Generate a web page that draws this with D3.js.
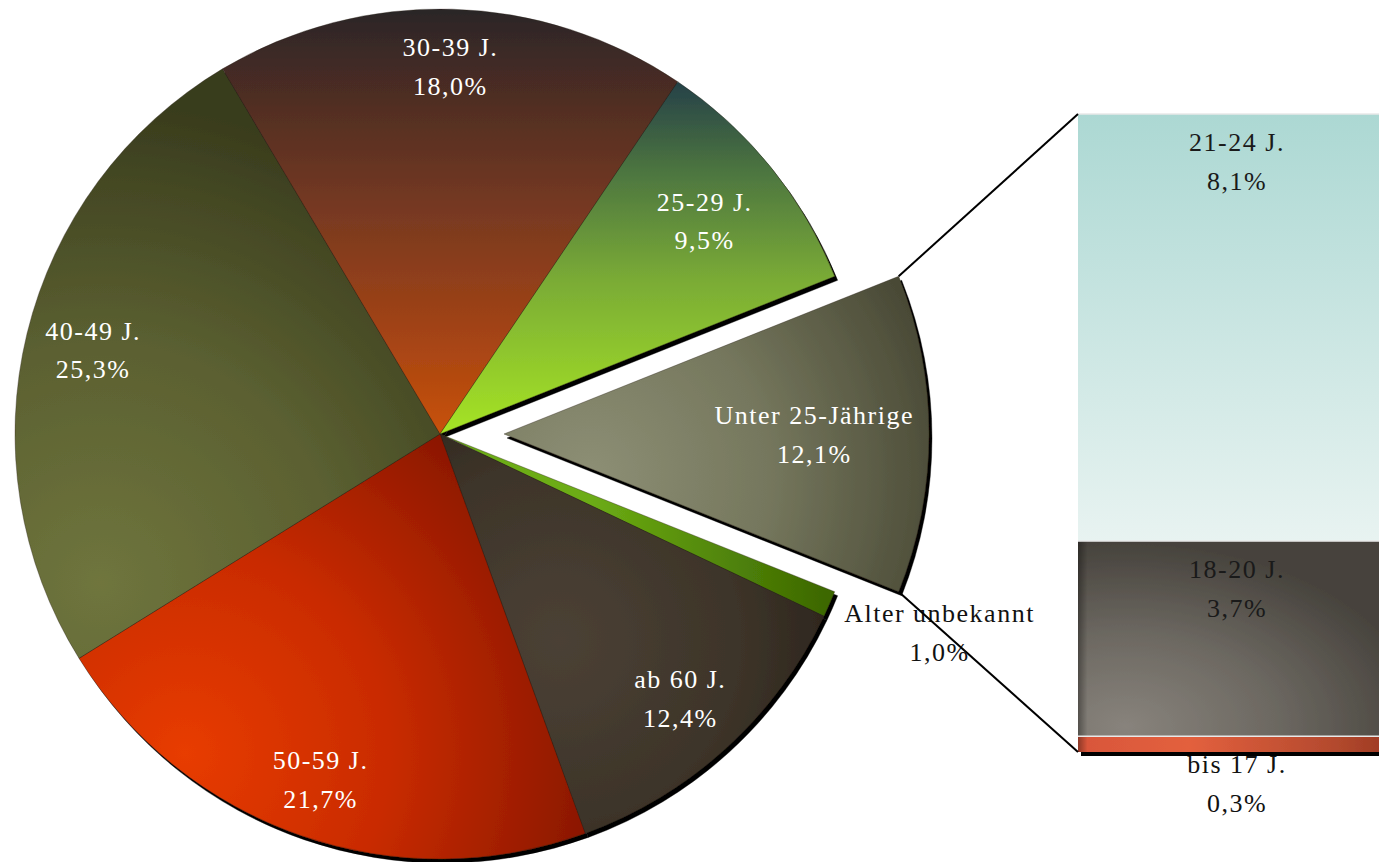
<!DOCTYPE html>
<html><head><meta charset="utf-8">
<script src="https://cdn.jsdelivr.net/npm/d3@7"></script>
<style>
html,body{margin:0;padding:0;background:#fff;overflow:hidden}
svg{display:block}
text{font-family:"Liberation Serif","Times New Roman",serif;font-size:26px;letter-spacing:1.5px}
</style></head><body>
<svg id="chart" width="1379" height="862"></svg>
<script>
// ---- data ----
const pieCategories = ["Unter 25-Jährige", "Alter unbekannt", "ab 60 J.", "50-59 J.", "40-49 J.", "30-39 J.", "25-29 J."];
const pieValues = [12.1, 1.0, 12.4, 21.7, 25.3, 18.0, 9.5];
const barCategories = ["21-24 J.", "18-20 J.", "bis 17 J."];
const barValues = [8.1, 3.7, 0.3];

// ---- layout / style ----
const cx = 440, cy = 434, R = 425, explode = 64;
const barX = 1078, barW = 318, barTop = 114, barBottom = 752;
const lineGap = 38.5;
const fmt = v => d3.format(".1f")(v).replace(".", ",") + "%";

const svg = d3.select("#chart");
const defs = svg.append("defs");
const flt = defs.append("filter").attr("id", "shadow")
  .attr("x", "-5%").attr("y", "-5%").attr("width", "115%").attr("height", "115%");
flt.append("feDropShadow").attr("dx", 3).attr("dy", 4).attr("stdDeviation", 0.6)
  .attr("flood-color", "#000").attr("flood-opacity", 1);

function linGrad(id, x1, y1, x2, y2, stops, units) {
  const g = defs.append("linearGradient").attr("id", id)
    .attr("gradientUnits", units || "userSpaceOnUse")
    .attr("x1", x1).attr("y1", y1).attr("x2", x2).attr("y2", y2);
  stops.forEach(s => g.append("stop").attr("offset", s[0]).attr("stop-color", s[1]).attr("stop-opacity", s[2] === undefined ? 1 : s[2]));
}
function radGrad(id, gx, gy, r, stops, units) {
  const g = defs.append("radialGradient").attr("id", id)
    .attr("gradientUnits", units || "userSpaceOnUse")
    .attr("cx", gx).attr("cy", gy).attr("r", r);
  stops.forEach(s => g.append("stop").attr("offset", s[0]).attr("stop-color", s[1]));
}

// slice fills (coordinates relative to each slice's own apex)
radGrad("g0", 0.2 * R, 0.1 * R, 360, [[0, "#8d8f75"], [0.5, "#75775d"], [1, "#4a4a36"]]);
linGrad("g1", 150, 0, 400, 0, [[0, "#6cac14"], [1, "#3a6400"]]);
radGrad("g2", 120, 206, 300, [[0, "#4b4135"], [0.6, "#3d3429"], [1, "#29221a"]]);
radGrad("g3", -255, 319, 410, [[0, "#e83c06"], [0.5, "#c92b00"], [1, "#8a1700"]]);
radGrad("g4", -340, 149, 480, [[0, "#6f753d"], [0.5, "#5b6031"], [1, "#393c1d"]]);
linGrad("g5", 0, -R, 0, 0, [[0, "#2a2627"], [0.2, "#4d2d24"], [0.5, "#7b3a20"], [0.78, "#a64414"], [1, "#c8520a"]]);
linGrad("g6", 0, -0.82 * R, 0, 0, [[0, "#274347"], [0.25, "#4d7640"], [0.55, "#79aa36"], [1, "#a6e424"]]);
const labelRadius = [0.73, 1.0, 0.84, 0.86, 0.84, 0.866, 0.80];

// bar fills
linGrad("b0", 0, 0, 0, 1, [[0, "#acd8d3"], [1, "#e8f3f1"]], "objectBoundingBox");
radGrad("b1", 0.15, 0.95, 0.95, [[0, "#88837c"], [0.5, "#6c6861"], [1, "#46423c"]], "objectBoundingBox");
linGrad("b2", 0, 0, 1, 0, [[0, "#d8563a"], [0.35, "#e3603e"], [0.8, "#b44a2e"], [1, "#9a3822"]], "objectBoundingBox");
linGrad("edge", 0, 0, 1, 0, [[0, "#000", 0.35], [0.03, "#000", 0.0], [1, "#000", 0]], "objectBoundingBox");

// ---- pie ----
const total = d3.sum(pieValues);
const a0 = Math.PI / 2 - (pieValues[0] / total) * Math.PI;
const pie = d3.pie().sort(null).value(d => d.value).startAngle(a0).endAngle(a0 + 2 * Math.PI);
const arcs = pie(pieCategories.map((c, i) => ({ cat: c, value: pieValues[i], i })));
const arc = d3.arc().innerRadius(0).outerRadius(R);

const pieG = svg.append("g").attr("transform", `translate(${cx},${cy})`);
const sliceG = pieG.append("g").attr("filter", "url(#shadow)");
function offsetOf(d) {
  if (d.index !== 0) return [0, 0];
  const m = (d.startAngle + d.endAngle) / 2;
  return [explode * Math.sin(m), -explode * Math.cos(m)];
}
sliceG.selectAll("g.slice").data(arcs).join("g").attr("class", "slice")
  .attr("transform", d => { const o = offsetOf(d); return `translate(${o[0]},${o[1]})`; })
  .append("path").attr("d", arc)
  .attr("fill", d => `url(#g${d.index})`)
  .attr("stroke", "#2a2218").attr("stroke-width", 0.6).attr("stroke-opacity", 0.6);

// inside labels
const inside = arcs.filter(d => d.index !== 1);
const lbl = pieG.selectAll("text.pl").data(inside).join("text").attr("class", "pl")
  .attr("fill", "#ffffff").attr("text-anchor", "middle")
  .attr("transform", d => {
    const o = offsetOf(d), m = (d.startAngle + d.endAngle) / 2, r = R * labelRadius[d.index];
    return `translate(${o[0] + r * Math.sin(m)},${o[1] - r * Math.cos(m) - 10})`;
  });
lbl.append("tspan").attr("x", 0).attr("y", 0).text(d => d.data.cat);
lbl.append("tspan").attr("x", 0).attr("y", lineGap).text(d => fmt(d.data.value));

// small slice label outside
const small = arcs[1];
const sm = (small.startAngle + small.endAngle) / 2;
const smx = R * Math.sin(sm) + 110, smy = -R * Math.cos(sm) + 18;
const st = pieG.append("text").attr("fill", "#111").attr("text-anchor", "middle")
  .attr("transform", `translate(${smx},${smy})`);
st.append("tspan").attr("x", 0).attr("y", 0).text(small.data.cat);
st.append("tspan").attr("x", 0).attr("y", lineGap).text(fmt(small.data.value));

// ---- bar ----
const barTotal = d3.sum(barValues);
const y = d3.scaleLinear().domain([0, barTotal]).range([barBottom, barTop]);
const segs = [];
let acc = 0;
for (let i = barValues.length - 1; i >= 0; i--) {
  segs.push({ cat: barCategories[i], value: barValues[i], idx: i, y0: acc, y1: acc + barValues[i] });
  acc += barValues[i];
}
// label of thin segment sits below the bar (drawn first, partly covered)
segs.filter(s => y(s.y0) - y(s.y1) < 40).forEach(s => {
  const t = svg.append("text").attr("fill", "#111").attr("text-anchor", "middle")
    .attr("transform", `translate(${barX + barW / 2},${y(s.y0) + 21})`);
  t.append("tspan").attr("x", 0).attr("y", 0).text(s.cat);
  t.append("tspan").attr("x", 0).attr("y", lineGap).text(fmt(s.value));
});
const barG = svg.append("g").attr("filter", "url(#shadow)");
barG.selectAll("rect").data(segs).join("rect")
  .attr("x", barX).attr("width", barW)
  .attr("y", d => y(d.y1)).attr("height", d => y(d.y0) - y(d.y1))
  .attr("fill", d => `url(#b${d.idx})`);
svg.selectAll("rect.edge").data(segs.filter(s => s.idx > 0)).join("rect").attr("class", "edge")
  .attr("x", barX).attr("width", barW)
  .attr("y", d => y(d.y1)).attr("height", d => y(d.y0) - y(d.y1))
  .attr("fill", "url(#edge)");
svg.selectAll("line.sep").data(segs.filter(s => s.y1 < barTotal)).join("line").attr("class", "sep")
  .attr("x1", barX).attr("x2", barX + barW)
  .attr("y1", d => y(d.y1)).attr("y2", d => y(d.y1))
  .attr("stroke", "#e8e8e8").attr("stroke-width", 1.5);
segs.filter(s => y(s.y0) - y(s.y1) >= 40).forEach(s => {
  const t = svg.append("text").attr("fill", "#1a1a1a").attr("text-anchor", "middle")
    .attr("transform", `translate(${barX + barW / 2},${y(s.y1) + 37})`);
  t.append("tspan").attr("x", 0).attr("y", 0).text(s.cat);
  t.append("tspan").attr("x", 0).attr("y", lineGap).text(fmt(s.value));
});

// ---- connector lines ----
const sp = arcs[0], so = offsetOf(sp);
const c1 = [cx + so[0] + R * Math.sin(sp.startAngle), cy + so[1] - R * Math.cos(sp.startAngle)];
const c2 = [cx + so[0] + R * Math.sin(sp.endAngle), cy + so[1] - R * Math.cos(sp.endAngle)];
svg.append("line").attr("x1", c1[0]).attr("y1", c1[1]).attr("x2", barX).attr("y2", y(barTotal))
  .attr("stroke", "#000").attr("stroke-width", 2);
svg.append("line").attr("x1", c2[0]).attr("y1", c2[1]).attr("x2", barX).attr("y2", y(0))
  .attr("stroke", "#000").attr("stroke-width", 2);
</script>
</body></html>
